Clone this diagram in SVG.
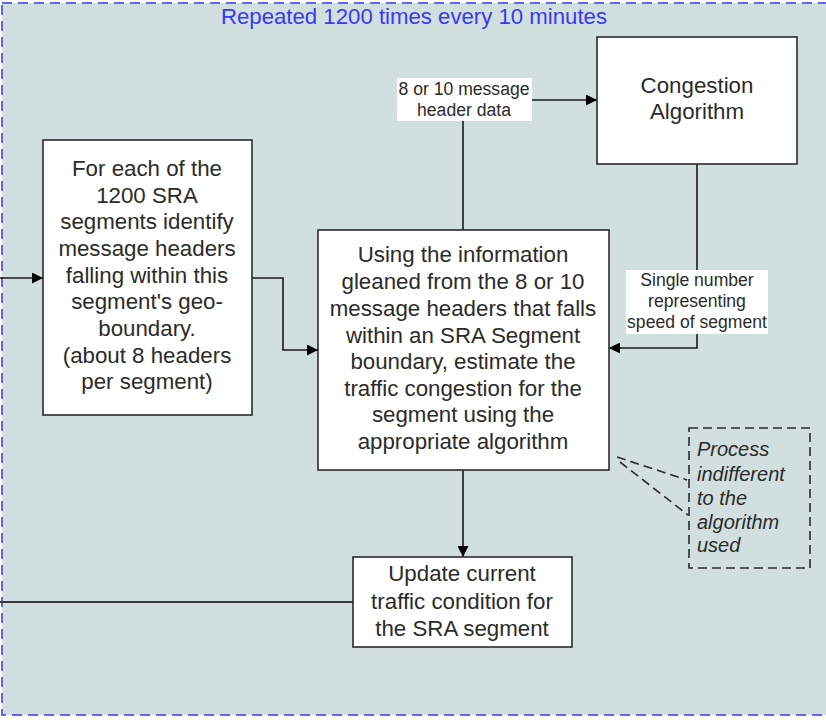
<svg xmlns="http://www.w3.org/2000/svg" width="826" height="721" viewBox="0 0 826 721">
<defs>
<style>
.box{fill:#fff;stroke:#2b2b2b;stroke-width:1.6}
.t{font-family:"Liberation Sans",Arial,sans-serif;font-size:22.3px;fill:#2b2b2b;text-anchor:middle}
.s{font-family:"Liberation Sans",Arial,sans-serif;font-size:17.6px;fill:#2b2b2b;text-anchor:middle}
.n{font-family:"Liberation Sans",Arial,sans-serif;font-size:20px;font-style:italic;fill:#2b2b2b}
.c{fill:none;stroke:#1a1a1a;stroke-width:1.6}
.d{fill:none;stroke:#2b2b2b;stroke-width:1.6;stroke-dasharray:9,5}
</style>
<marker id="ah" viewBox="0 0 10 10" refX="10" refY="5" markerWidth="15" markerHeight="11" markerUnits="userSpaceOnUse" orient="auto">
<path d="M0,0 L10,5 L0,10 z" fill="#000"/>
</marker>
</defs>
<g id="frame">
<rect x="2" y="3" width="830" height="712" fill="#d1dfde" stroke="#6464f5" stroke-width="2" stroke-dasharray="10,6"/>
<text x="414" y="24" font-family="Liberation Sans,Arial,sans-serif" font-size="22.2" fill="#3a3af0" text-anchor="middle">Repeated 1200 times every 10 minutes</text>
</g>
<g id="connectors">
<line class="c" x1="0" y1="278" x2="43" y2="278" marker-end="url(#ah)"/>
<polyline class="c" points="252,278 283,278 283,350 318,350" marker-end="url(#ah)"/>
<line class="c" x1="463" y1="230" x2="463" y2="121"/>
<line class="c" x1="532" y1="100" x2="597" y2="100" marker-end="url(#ah)"/>
<line class="c" x1="697" y1="164" x2="697" y2="270"/>
<polyline class="c" points="697,334 697,348 609,348" marker-end="url(#ah)"/>
<line class="c" x1="463" y1="470" x2="463" y2="557" marker-end="url(#ah)"/>
<line x1="0" y1="602" x2="353" y2="602" stroke="#3a3a3a" stroke-width="2"/>
<line class="d" x1="617" y1="457" x2="687" y2="480"/>
<line class="d" x1="620" y1="462" x2="688" y2="515"/>
</g>
<g id="label-header">
<rect x="397" y="78" width="135" height="43" fill="#fff"/>
<text class="s" x="464" y="95">8 or 10 message</text>
<text class="s" x="464" y="116">header data</text>
</g>
<g id="label-speed">
<rect x="626" y="270" width="142" height="64" fill="#fff"/>
<text class="s" x="697" y="286">Single number</text>
<text class="s" x="697" y="307">representing</text>
<text class="s" x="697" y="328">speed of segment</text>
</g>
<g id="congestion">
<rect class="box" x="597" y="37" width="200" height="127"/>
<text class="t" x="697" y="93">Congestion</text>
<text class="t" x="697" y="119">Algorithm</text>
</g>
<g id="identify">
<rect class="box" x="43" y="140" width="209" height="275"/>
<text class="t" x="147" y="176">For each of the</text>
<text class="t" x="147" y="203">1200 SRA</text>
<text class="t" x="147" y="229">segments identify</text>
<text class="t" x="147" y="256">message headers</text>
<text class="t" x="147" y="283">falling within this</text>
<text class="t" x="147" y="309">segment's geo-</text>
<text class="t" x="147" y="336">boundary.</text>
<text class="t" x="147" y="363">(about 8 headers</text>
<text class="t" x="147" y="389">per segment)</text>
</g>
<g id="estimate">
<rect class="box" x="318" y="230" width="291" height="240"/>
<text class="t" x="463" y="262">Using the information</text>
<text class="t" x="463" y="289">gleaned from the 8 or 10</text>
<text class="t" x="463" y="316">message headers that falls</text>
<text class="t" x="463" y="343">within an SRA Segment</text>
<text class="t" x="463" y="369">boundary, estimate the</text>
<text class="t" x="463" y="396">traffic congestion for the</text>
<text class="t" x="463" y="422">segment using the</text>
<text class="t" x="463" y="449">appropriate algorithm</text>
</g>
<g id="update">
<rect class="box" x="353" y="557" width="219" height="90"/>
<text class="t" x="462" y="581">Update current</text>
<text class="t" x="462" y="609">traffic condition for</text>
<text class="t" x="462" y="636">the SRA segment</text>
</g>
<g id="note">
<rect class="d" x="689" y="428" width="121" height="140"/>
<text class="n" x="697" y="456">Process</text>
<text class="n" x="697" y="481">indifferent</text>
<text class="n" x="697" y="505">to the</text>
<text class="n" x="697" y="529">algorithm</text>
<text class="n" x="697" y="552">used</text>
</g>
</svg>
